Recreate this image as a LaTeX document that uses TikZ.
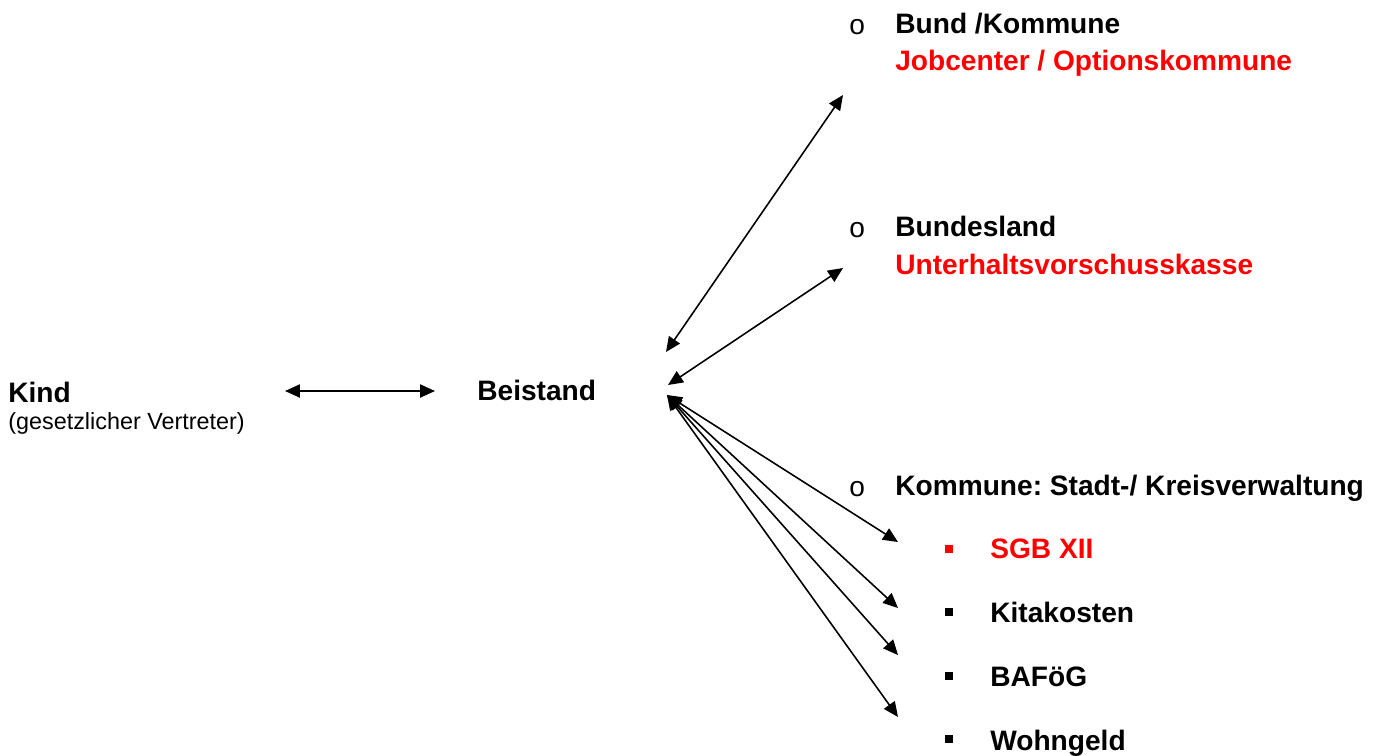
\documentclass[tikz,border=0pt]{standalone}
\usepackage{fontspec}
\setmainfont{Liberation Sans}
\usetikzlibrary{arrows.meta}
\frenchspacing

\begin{document}
\begin{tikzpicture}[x=0.02cm, y=-0.02cm,
  lbl/.style={anchor=base west, inner sep=0pt, font=\fontsize{16}{19}\selectfont\bfseries},
  sub/.style={lbl, text=red},
  note/.style={anchor=base west, inner sep=0pt, font=\fontsize{13.3}{16}\selectfont},
  circ/.style={anchor=base west, inner sep=0pt, font=\fontsize{16}{19}\selectfont},
  sq/.style={fill, inner sep=0pt, minimum size=5pt},
  link/.style={{Triangle[length=8.5pt,width=7.5pt]}-{Triangle[length=8.5pt,width=7.5pt]}, line width=0.9pt}]

\useasboundingbox (0,0) rectangle (1389,755);

\node[lbl] (kind) at (8,402) {Kind};
\node[note] (vertreter) at (8,429) {(gesetzlicher Vertreter)};
\node[lbl] (beistand) at (477,400) {Beistand};

\node[circ] (o1) at (849,34) {o};
\node[lbl] (bund) at (895,33) {Bund /Kommune};
\node[sub] (jobcenter) at (895,70) {Jobcenter / Optionskommune};

\node[circ] (o2) at (849,237) {o};
\node[lbl] (land) at (895,236) {Bundesland};
\node[sub] (uvk) at (895,274) {Unterhaltsvorschusskasse};

\node[circ] (o3) at (849,496) {o};
\node[lbl] (kommune) at (895,495) {Kommune: Stadt-/ Kreisverwaltung};

\node[sq, red] (s1) at (949,549) {};
\node[sub] (sgb) at (990,558) {SGB XII};
\node[sq] (s2) at (949,612) {};
\node[lbl] (kita) at (990,622) {Kitakosten};
\node[sq] (s3) at (949,676) {};
\node[lbl] (bafoeg) at (990,686) {BAFöG};
\node[sq] (s4) at (949,739) {};
\node[lbl] (wohngeld) at (990,750) {Wohngeld};

\coordinate (kindR) at (285,391);
\coordinate (beistandL) at (435,391);
\coordinate (hubA) at (666,352);
\coordinate (hubB) at (668,385);
\coordinate (hubC) at (667,395);
\coordinate (tipBund) at (843,95);
\coordinate (tipLand) at (843,268);
\coordinate (tipSgb) at (898,542);
\coordinate (tipKita) at (898,608);
\coordinate (tipBafoeg) at (898,655);
\coordinate (tipWohn) at (898,717);

\draw[link] (kindR) -- (beistandL);
\draw[link] (hubA) -- (tipBund);
\draw[link] (hubB) -- (tipLand);
\draw[link] (hubC) -- (tipSgb);
\draw[link] (hubC) -- (tipKita);
\draw[link] (hubC) -- (tipBafoeg);
\draw[link] (hubC) -- (tipWohn);

\end{tikzpicture}
\end{document}
